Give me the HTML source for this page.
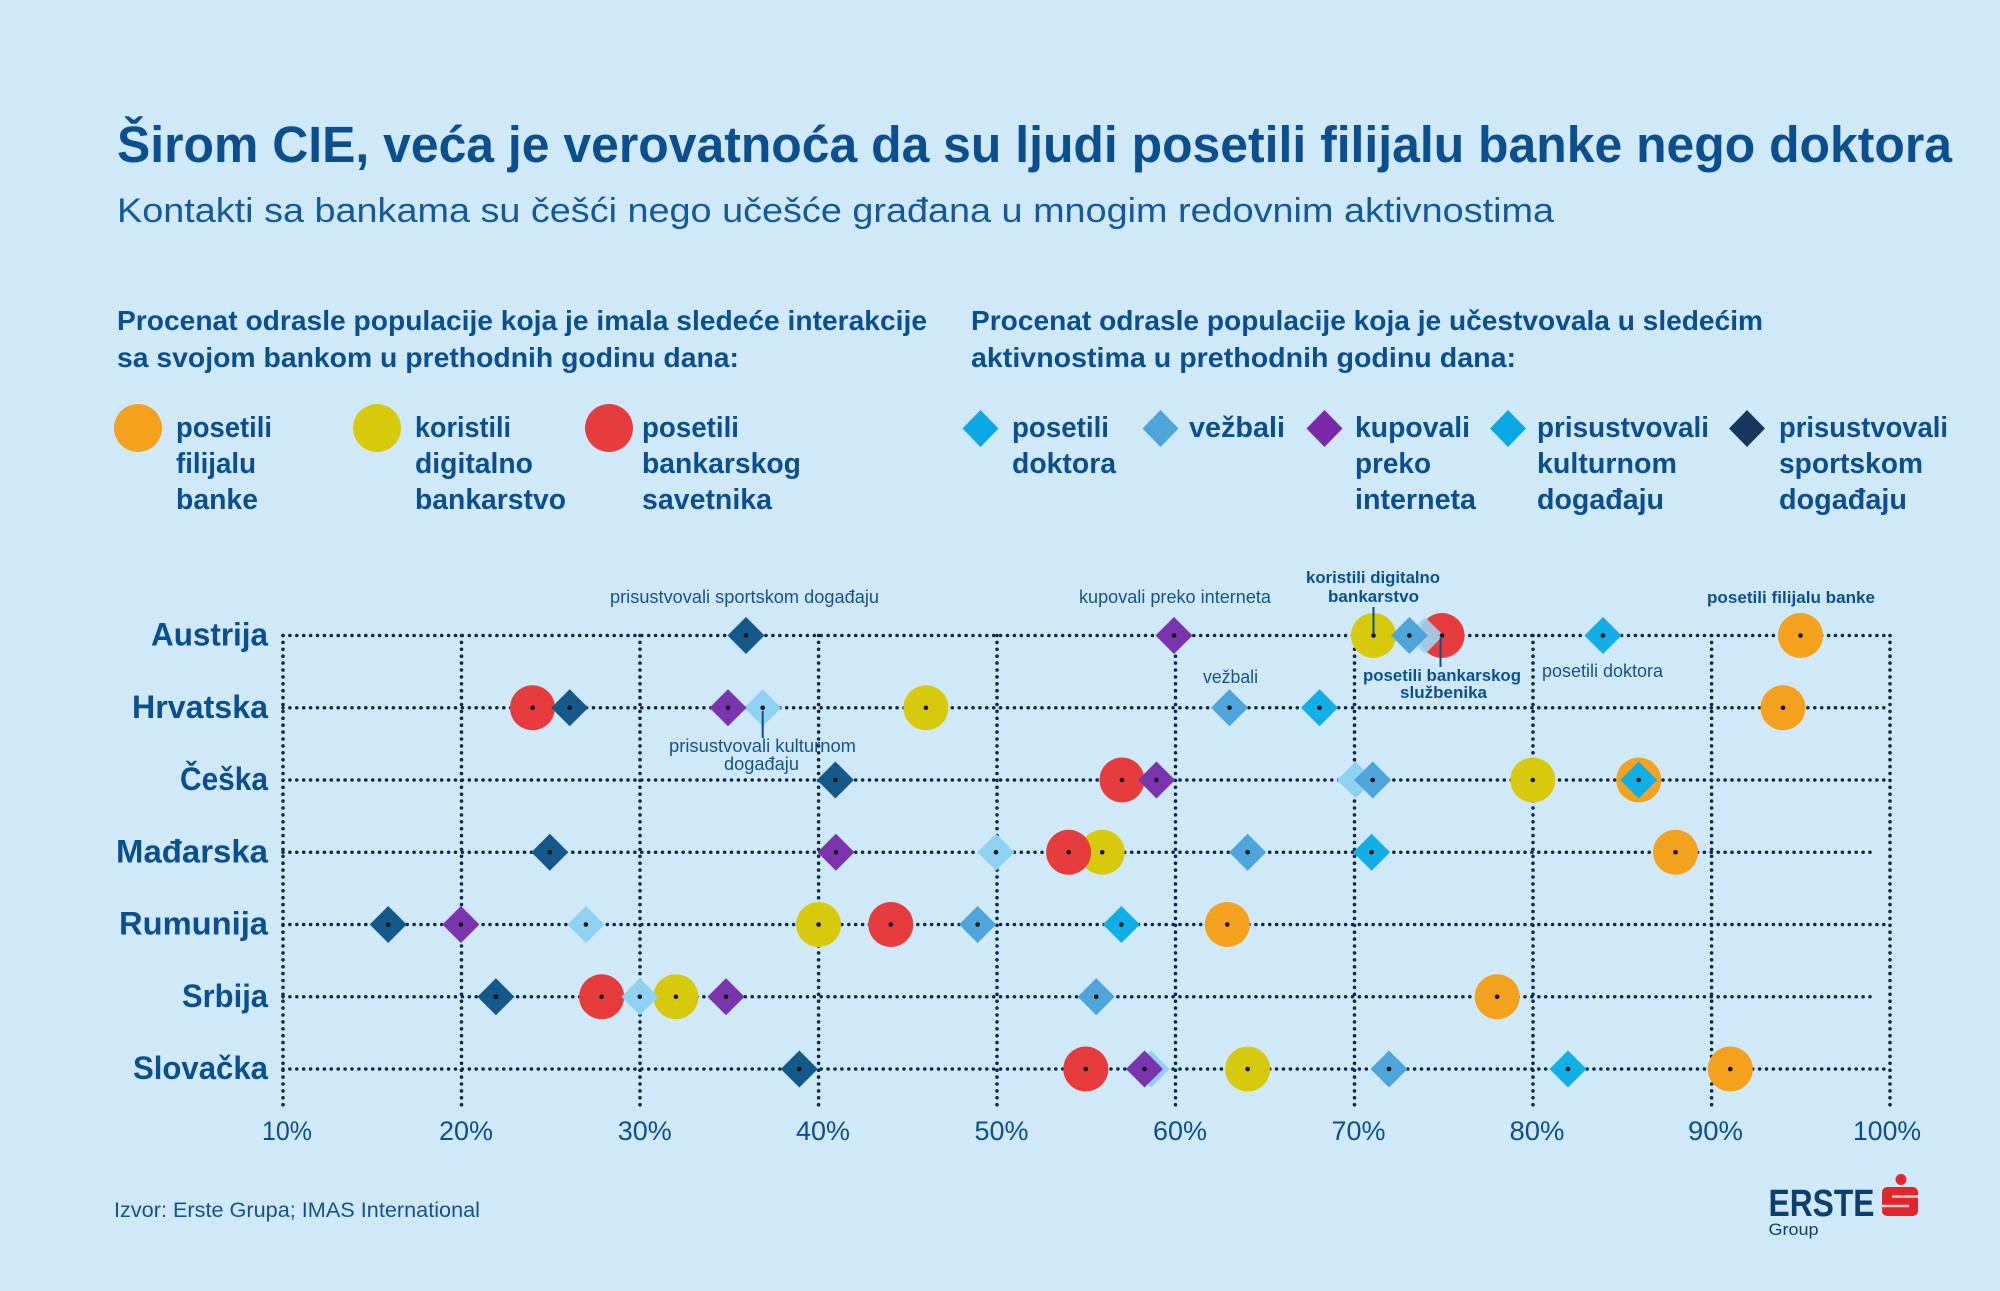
<!DOCTYPE html>
<html>
<head>
<meta charset="utf-8">
<style>
html,body{margin:0;padding:0;background:#cfe9f9;}
svg{display:block;}
text{font-family:"Liberation Sans",sans-serif;}
</style>
</head>
<body>
<svg width="2000" height="1291" viewBox="0 0 2000 1291" xmlns="http://www.w3.org/2000/svg">
<defs>
<polygon id="d" points="0,-18.5 18.5,0 0,18.5 -18.5,0"/>
<polygon id="dl" points="0,-18.5 18,0 0,18.5 -18,0"/>
</defs>
<rect width="2000" height="1291" fill="#cfe9f9"/>

<!-- Title -->
<text x="117" y="162" font-size="51" font-weight="bold" fill="#0c4f8f" textLength="1835" lengthAdjust="spacingAndGlyphs">Širom CIE, veća je verovatnoća da su ljudi posetili filijalu banke nego doktora</text>
<text x="117" y="222" font-size="34" fill="#14599a" textLength="1437" lengthAdjust="spacingAndGlyphs">Kontakti sa bankama su češći nego učešće građana u mnogim redovnim aktivnostima</text>

<!-- Section headings -->
<g font-size="28" font-weight="bold" fill="#0c4f8f">
<text x="117" y="330" textLength="810" lengthAdjust="spacingAndGlyphs">Procenat odrasle populacije koja je imala sledeće interakcije</text>
<text x="117" y="367" textLength="622" lengthAdjust="spacingAndGlyphs">sa svojom bankom u prethodnih godinu dana:</text>
<text x="971" y="330" textLength="792" lengthAdjust="spacingAndGlyphs">Procenat odrasle populacije koja je učestvovala u sledećim</text>
<text x="971" y="367" textLength="545" lengthAdjust="spacingAndGlyphs">aktivnostima u prethodnih godinu dana:</text>
</g>

<!-- Left legend -->
<circle cx="138" cy="428" r="24" fill="#f4a11d"/>
<circle cx="377" cy="428" r="24" fill="#d7c90b"/>
<circle cx="609" cy="428" r="24" fill="#e63c3e"/>
<g font-size="29" font-weight="bold" fill="#0c4f8f">
<text x="176" y="437" textLength="96" lengthAdjust="spacingAndGlyphs">posetili</text>
<text x="176" y="473" textLength="80" lengthAdjust="spacingAndGlyphs">filijalu</text>
<text x="176" y="509" textLength="82" lengthAdjust="spacingAndGlyphs">banke</text>
<text x="415" y="437" textLength="96" lengthAdjust="spacingAndGlyphs">koristili</text>
<text x="415" y="473" textLength="118" lengthAdjust="spacingAndGlyphs">digitalno</text>
<text x="415" y="509" textLength="151" lengthAdjust="spacingAndGlyphs">bankarstvo</text>
<text x="642" y="437" textLength="97" lengthAdjust="spacingAndGlyphs">posetili</text>
<text x="642" y="473" textLength="159" lengthAdjust="spacingAndGlyphs">bankarskog</text>
<text x="642" y="509" textLength="130" lengthAdjust="spacingAndGlyphs">savetnika</text>
</g>

<!-- Right legend -->
<use href="#dl" x="980.5" y="428.5" fill="#0aa9e3"/>
<use href="#dl" x="1160.5" y="428.5" fill="#4ea5d9"/>
<use href="#dl" x="1324.5" y="428.5" fill="#7a2aa8"/>
<use href="#dl" x="1508" y="428.5" fill="#0aa9e3"/>
<use href="#dl" x="1747" y="428.5" fill="#17385c"/>
<g font-size="29" font-weight="bold" fill="#0c4f8f">
<text x="1012" y="437" textLength="97" lengthAdjust="spacingAndGlyphs">posetili</text>
<text x="1012" y="473" textLength="104" lengthAdjust="spacingAndGlyphs">doktora</text>
<text x="1189" y="437" textLength="96" lengthAdjust="spacingAndGlyphs">vežbali</text>
<text x="1355" y="437" textLength="115" lengthAdjust="spacingAndGlyphs">kupovali</text>
<text x="1355" y="473" textLength="76" lengthAdjust="spacingAndGlyphs">preko</text>
<text x="1355" y="509" textLength="121" lengthAdjust="spacingAndGlyphs">interneta</text>
<text x="1537" y="437" textLength="172" lengthAdjust="spacingAndGlyphs">prisustvovali</text>
<text x="1537" y="473" textLength="140" lengthAdjust="spacingAndGlyphs">kulturnom</text>
<text x="1537" y="509" textLength="127" lengthAdjust="spacingAndGlyphs">događaju</text>
<text x="1779" y="437" textLength="169" lengthAdjust="spacingAndGlyphs">prisustvovali</text>
<text x="1779" y="473" textLength="144" lengthAdjust="spacingAndGlyphs">sportskom</text>
<text x="1779" y="509" textLength="128" lengthAdjust="spacingAndGlyphs">događaju</text>
</g>

<!-- Annotations -->
<g font-size="18" fill="#17528a">
<text x="610" y="603" textLength="269" lengthAdjust="spacingAndGlyphs">prisustvovali sportskom događaju</text>
<text x="1079" y="603" textLength="192" lengthAdjust="spacingAndGlyphs">kupovali preko interneta</text>
<text x="1203" y="683" textLength="55" lengthAdjust="spacingAndGlyphs">vežbali</text>
<text x="1542" y="677" textLength="121" lengthAdjust="spacingAndGlyphs">posetili doktora</text>
<text x="669" y="752" textLength="187" lengthAdjust="spacingAndGlyphs">prisustvovali kulturnom</text>
<text x="724" y="770" textLength="75" lengthAdjust="spacingAndGlyphs">događaju</text>
</g>
<g font-size="17" font-weight="bold" fill="#0c4f8f">
<text x="1306" y="583" textLength="134" lengthAdjust="spacingAndGlyphs">koristili digitalno</text>
<text x="1328" y="602" textLength="91" lengthAdjust="spacingAndGlyphs">bankarstvo</text>
<text x="1707" y="603" textLength="168" lengthAdjust="spacingAndGlyphs">posetili filijalu banke</text>
<text x="1363" y="681" textLength="158" lengthAdjust="spacingAndGlyphs">posetili bankarskog</text>
<text x="1400" y="698" textLength="87" lengthAdjust="spacingAndGlyphs">službenika</text>
</g>

<!-- Grid -->
<g stroke="#0e2a47" stroke-width="3.6" stroke-linecap="round" stroke-dasharray="0 6.9" fill="none">
<line x1="283" y1="635.5" x2="283" y2="1107"/>
<line x1="461.5" y1="635.5" x2="461.5" y2="1107"/>
<line x1="640" y1="635.5" x2="640" y2="1107"/>
<line x1="818.6" y1="635.5" x2="818.6" y2="1107"/>
<line x1="997" y1="635.5" x2="997" y2="1107"/>
<line x1="1175.5" y1="635.5" x2="1175.5" y2="1107"/>
<line x1="1354.5" y1="635.5" x2="1354.5" y2="1107"/>
<line x1="1533" y1="635.5" x2="1533" y2="1107"/>
<line x1="1711.6" y1="635.5" x2="1711.6" y2="1107"/>
<line x1="1890" y1="635.5" x2="1890" y2="1107"/>
<line x1="283" y1="635.5" x2="1890" y2="635.5"/>
<line x1="283" y1="707.75" x2="1890" y2="707.75"/>
<line x1="283" y1="780" x2="1890" y2="780"/>
<line x1="283" y1="852.25" x2="1872" y2="852.25"/>
<line x1="283" y1="924.5" x2="1890" y2="924.5"/>
<line x1="283" y1="996.75" x2="1872" y2="996.75"/>
<line x1="283" y1="1069" x2="1890" y2="1069"/>
</g>

<!-- Row labels -->
<g font-size="32" font-weight="bold" fill="#0c4f8f">
<text x="151" y="645.5" textLength="117" lengthAdjust="spacingAndGlyphs">Austrija</text>
<text x="132" y="717.75" textLength="136" lengthAdjust="spacingAndGlyphs">Hrvatska</text>
<text x="180" y="790" textLength="88" lengthAdjust="spacingAndGlyphs">Češka</text>
<text x="116" y="862.25" textLength="152" lengthAdjust="spacingAndGlyphs">Mađarska</text>
<text x="119" y="934.5" textLength="149" lengthAdjust="spacingAndGlyphs">Rumunija</text>
<text x="182" y="1006.75" textLength="86" lengthAdjust="spacingAndGlyphs">Srbija</text>
<text x="133" y="1079" textLength="135" lengthAdjust="spacingAndGlyphs">Slovačka</text>
</g>

<!-- Austria y=635.5 -->
<circle cx="1800.5" cy="635.5" r="22.5" fill="#f4a11d"/>
<circle cx="1373.5" cy="635.5" r="22.5" fill="#d7c90b"/>
<circle cx="1442" cy="635.5" r="22.5" fill="#e63c3e"/>
<use href="#d" x="1425" y="635.5" fill="#9fd3f0" fill-opacity="0.9"/>
<use href="#d" x="746" y="635.5" fill="#15588a"/>
<use href="#d" x="1174" y="635.5" fill="#7a34ad"/>
<use href="#d" x="1409.4" y="635.5" fill="#4ea5d9"/>
<use href="#d" x="1603" y="635.5" fill="#12aee6"/>

<!-- Hrvatska y=707.75 -->
<circle cx="1783" cy="707.75" r="22.5" fill="#f4a11d"/>
<circle cx="925.9" cy="707.75" r="22.5" fill="#d7c90b"/>
<circle cx="532.5" cy="707.75" r="22.5" fill="#e63c3e"/>
<use href="#d" x="762.7" y="707.75" fill="#8fd1f2"/>
<use href="#d" x="569.7" y="707.75" fill="#15588a"/>
<use href="#d" x="728" y="707.75" fill="#7a34ad"/>
<use href="#d" x="1229.5" y="707.75" fill="#4ea5d9"/>
<use href="#d" x="1319.5" y="707.75" fill="#12aee6"/>

<!-- Ceska y=780 -->
<circle cx="1638.7" cy="780" r="22.5" fill="#f4a11d"/>
<circle cx="1532.8" cy="780" r="22.5" fill="#d7c90b"/>
<circle cx="1122" cy="780" r="22.5" fill="#e63c3e"/>
<use href="#d" x="1355.5" y="780" fill="#8fd1f2"/>
<use href="#d" x="835.4" y="780" fill="#15588a"/>
<use href="#d" x="1156.5" y="780" fill="#7a34ad"/>
<use href="#d" x="1372.7" y="780" fill="#4ea5d9"/>
<use href="#d" x="1638.7" y="780" fill="#12aee6"/>

<!-- Madjarska y=852.25 -->
<circle cx="1675.5" cy="852.25" r="22.5" fill="#f4a11d"/>
<circle cx="1102.2" cy="852.25" r="22.5" fill="#d7c90b"/>
<circle cx="1068.6" cy="852.25" r="22.5" fill="#e63c3e"/>
<use href="#d" x="996" y="852.25" fill="#8fd1f2"/>
<use href="#d" x="549.8" y="852.25" fill="#15588a"/>
<use href="#d" x="835.9" y="852.25" fill="#7a34ad"/>
<use href="#d" x="1247.6" y="852.25" fill="#4ea5d9"/>
<use href="#d" x="1371.6" y="852.25" fill="#12aee6"/>

<!-- Rumunija y=924.5 -->
<circle cx="1227.3" cy="924.5" r="22.5" fill="#f4a11d"/>
<circle cx="818.6" cy="924.5" r="22.5" fill="#d7c90b"/>
<circle cx="890.8" cy="924.5" r="22.5" fill="#e63c3e"/>
<use href="#d" x="585.9" y="924.5" fill="#8fd1f2"/>
<use href="#d" x="388.2" y="924.5" fill="#15588a"/>
<use href="#d" x="460.9" y="924.5" fill="#7a34ad"/>
<use href="#d" x="977.6" y="924.5" fill="#4ea5d9"/>
<use href="#d" x="1121.4" y="924.5" fill="#12aee6"/>

<!-- Srbija y=996.75 -->
<circle cx="1497.2" cy="996.75" r="22.5" fill="#f4a11d"/>
<circle cx="675.9" cy="996.75" r="22.5" fill="#d7c90b"/>
<circle cx="601.6" cy="996.75" r="22.5" fill="#e63c3e"/>
<use href="#d" x="639.8" y="996.75" fill="#8fd1f2"/>
<use href="#d" x="495.9" y="996.75" fill="#15588a"/>
<use href="#d" x="726" y="996.75" fill="#7a34ad"/>
<use href="#d" x="1096.2" y="996.75" fill="#4ea5d9"/>

<!-- Slovacka y=1069 -->
<circle cx="1730.3" cy="1069" r="22.5" fill="#f4a11d"/>
<circle cx="1247.6" cy="1069" r="22.5" fill="#d7c90b"/>
<circle cx="1085.8" cy="1069" r="22.5" fill="#e63c3e"/>
<use href="#d" x="1151" y="1069" fill="#8fd1f2"/>
<use href="#d" x="799.3" y="1069" fill="#15588a"/>
<use href="#d" x="1144.5" y="1069" fill="#7a34ad"/>
<use href="#d" x="1389" y="1069" fill="#4ea5d9"/>
<use href="#d" x="1568" y="1069" fill="#12aee6"/>

<!-- center dots -->
<g fill="#111">
<circle cx="746" cy="635.5" r="2.3"/><circle cx="1174" cy="635.5" r="2.3"/><circle cx="1373.5" cy="635.5" r="2.3"/><circle cx="1409.4" cy="635.5" r="2.3"/><circle cx="1442" cy="635.5" r="2.3"/><circle cx="1603" cy="635.5" r="2.3"/><circle cx="1800.5" cy="635.5" r="2.3"/>
<circle cx="532.5" cy="707.75" r="2.3"/><circle cx="569.7" cy="707.75" r="2.3"/><circle cx="728" cy="707.75" r="2.3"/><circle cx="762.7" cy="707.75" r="2.3"/><circle cx="925.9" cy="707.75" r="2.3"/><circle cx="1229.5" cy="707.75" r="2.3"/><circle cx="1319.5" cy="707.75" r="2.3"/><circle cx="1783" cy="707.75" r="2.3"/>
<circle cx="835.4" cy="780" r="2.3"/><circle cx="1122" cy="780" r="2.3"/><circle cx="1156.5" cy="780" r="2.3"/><circle cx="1372.7" cy="780" r="2.3"/><circle cx="1532.8" cy="780" r="2.3"/><circle cx="1638.7" cy="780" r="2.3"/>
<circle cx="549.8" cy="852.25" r="2.3"/><circle cx="835.9" cy="852.25" r="2.3"/><circle cx="996" cy="852.25" r="2.3"/><circle cx="1068.6" cy="852.25" r="2.3"/><circle cx="1102.2" cy="852.25" r="2.3"/><circle cx="1247.6" cy="852.25" r="2.3"/><circle cx="1371.6" cy="852.25" r="2.3"/><circle cx="1675.5" cy="852.25" r="2.3"/>
<circle cx="388.2" cy="924.5" r="2.3"/><circle cx="460.9" cy="924.5" r="2.3"/><circle cx="585.9" cy="924.5" r="2.3"/><circle cx="818.6" cy="924.5" r="2.3"/><circle cx="890.8" cy="924.5" r="2.3"/><circle cx="977.6" cy="924.5" r="2.3"/><circle cx="1121.4" cy="924.5" r="2.3"/><circle cx="1227.3" cy="924.5" r="2.3"/>
<circle cx="495.9" cy="996.75" r="2.3"/><circle cx="601.6" cy="996.75" r="2.3"/><circle cx="639.8" cy="996.75" r="2.3"/><circle cx="675.9" cy="996.75" r="2.3"/><circle cx="726" cy="996.75" r="2.3"/><circle cx="1096.2" cy="996.75" r="2.3"/><circle cx="1497.2" cy="996.75" r="2.3"/>
<circle cx="799.3" cy="1069" r="2.3"/><circle cx="1085.8" cy="1069" r="2.3"/><circle cx="1144.5" cy="1069" r="2.3"/><circle cx="1247.6" cy="1069" r="2.3"/><circle cx="1389" cy="1069" r="2.3"/><circle cx="1568" cy="1069" r="2.3"/><circle cx="1730.3" cy="1069" r="2.3"/>
</g>

<!-- Leader lines -->
<g stroke="#0c4d8a" stroke-width="2">
<line x1="1373.5" y1="607" x2="1373.5" y2="634"/>
<line x1="1440.5" y1="638" x2="1440.5" y2="667"/>
<line x1="762.7" y1="711" x2="762.7" y2="738"/>
</g>

<!-- Axis labels -->
<g font-size="27" fill="#0c4f8f" text-anchor="middle">
<text x="287" y="1140" textLength="50" lengthAdjust="spacingAndGlyphs">10%</text>
<text x="466" y="1140" textLength="54" lengthAdjust="spacingAndGlyphs">20%</text>
<text x="644.7" y="1140" textLength="54" lengthAdjust="spacingAndGlyphs">30%</text>
<text x="823" y="1140" textLength="54" lengthAdjust="spacingAndGlyphs">40%</text>
<text x="1001.5" y="1140" textLength="54" lengthAdjust="spacingAndGlyphs">50%</text>
<text x="1180" y="1140" textLength="54" lengthAdjust="spacingAndGlyphs">60%</text>
<text x="1358.5" y="1140" textLength="54" lengthAdjust="spacingAndGlyphs">70%</text>
<text x="1537" y="1140" textLength="55" lengthAdjust="spacingAndGlyphs">80%</text>
<text x="1715.5" y="1140" textLength="55" lengthAdjust="spacingAndGlyphs">90%</text>
<text x="1887" y="1140" textLength="68" lengthAdjust="spacingAndGlyphs">100%</text>
</g>

<!-- Footer -->
<text x="114" y="1217" font-size="21" fill="#17528a" textLength="366" lengthAdjust="spacingAndGlyphs">Izvor: Erste Grupa; IMAS International</text>

<!-- Logo -->
<text x="1768.5" y="1216" font-size="38" font-weight="bold" fill="#0d3f6e" textLength="106" lengthAdjust="spacingAndGlyphs">ERSTE</text>
<text x="1768.5" y="1235" font-size="17" fill="#0d3f6e" textLength="50" lengthAdjust="spacingAndGlyphs">Group</text>
<circle cx="1901" cy="1179.5" r="5.5" fill="#e3262e"/>
<rect x="1882" y="1187" width="36" height="29" rx="5" fill="#e3262e"/>
<line x1="1892" y1="1196.5" x2="1918" y2="1196.5" stroke="#f2c9cb" stroke-width="2.5"/>
<line x1="1882" y1="1206" x2="1909" y2="1206" stroke="#f2c9cb" stroke-width="2.5"/>
</svg>
</body>
</html>
